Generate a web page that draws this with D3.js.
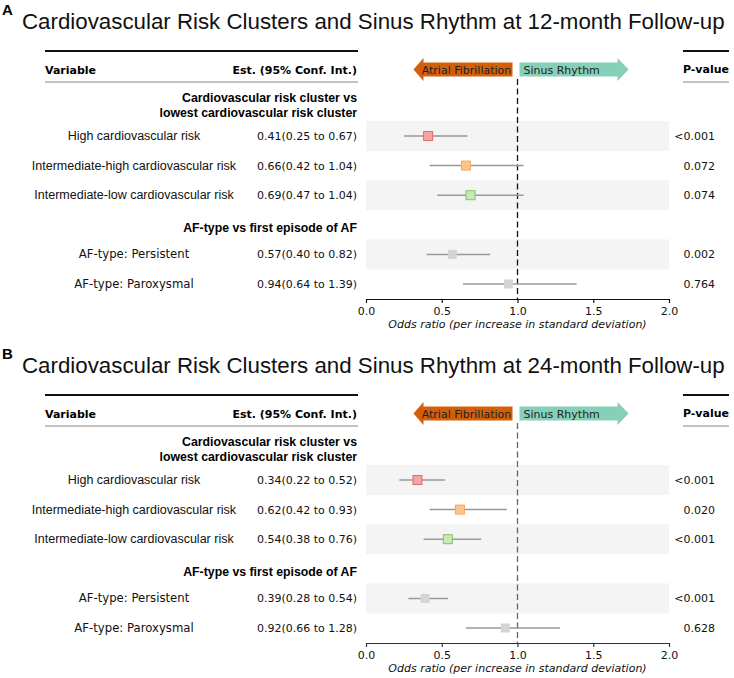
<!DOCTYPE html>
<html><head><meta charset="utf-8">
<script src="https://cdn.jsdelivr.net/npm/d3@7"></script>
<style>body{margin:0;background:#fff}svg{display:block}</style>
</head><body>
<svg id="c" width="734" height="678"></svg>
<script>
const panelLabels = ["A", "B"];
const panelTitles = [
  "Cardiovascular Risk Clusters and Sinus Rhythm at 12-month Follow-up",
  "Cardiovascular Risk Clusters and Sinus Rhythm at 24-month Follow-up"
];
const rowLabels = ["High cardiovascular risk", "Intermediate-high cardiovascular risk",
  "Intermediate-low cardiovascular risk", "AF-type: Persistent", "AF-type: Paroxysmal"];
const rowGroup = ["cv", "cv", "cv", "af", "af"];
const groupHeaders = [["Cardiovascular risk cluster vs", "lowest cardiovascular risk cluster"], ["AF-type vs first episode of AF"]];
const est12 = [0.41, 0.66, 0.69, 0.57, 0.94];
const lo12 = [0.25, 0.42, 0.47, 0.40, 0.64];
const hi12 = [0.67, 1.04, 1.04, 0.82, 1.39];
const p12 = ["<0.001", "0.072", "0.074", "0.002", "0.764"];
const est24 = [0.34, 0.62, 0.54, 0.39, 0.92];
const lo24 = [0.22, 0.42, 0.38, 0.28, 0.66];
const hi24 = [0.52, 0.93, 0.76, 0.54, 1.28];
const p24 = ["<0.001", "0.020", "<0.001", "<0.001", "0.628"];
const xTicks = [0.0, 0.5, 1.0, 1.5, 2.0];
const markerFill = ["#f5a3a3", "#fdc48c", "#c8e8b4", "#d4d4d4", "#d4d4d4"];
const markerStroke = ["#e06a6a", "#f5a75e", "#86c26a", "none", "none"];

const svg = d3.select("#c");
const SANS = "'Liberation Sans', Arial, sans-serif";
const DJV = "'DejaVu Sans', sans-serif";
const x = d3.scaleLinear().domain([0, 2]).range([366, 669]);
// row slots: 0 High,1 IH,2 IL,(3 AF header),4 Pers,5 Par
const slot = [0, 1, 2, 4, 5];
const y = d3.scaleLinear().domain([0, 5]).range([136, 284]);
const fmt = d3.format(".2f");

function panel(k, off, est, lo, hi, pv, dashColor, axisColor) {
  const g = svg.append("g").attr("transform", `translate(0,${off})`);
  g.append("text").attr("x", 2).attr("y", 15).attr("font-family", SANS).attr("font-weight", "bold")
    .attr("font-size", 15).text(panelLabels[k]);
  g.append("text").attr("x", 22).attr("y", 29).attr("font-family", SANS).attr("font-size", 22.3)
    .attr("fill", "#111").text(panelTitles[k]);
  // table rules
  g.append("line").attr("x1", 45).attr("x2", 358).attr("y1", 51).attr("y2", 51).attr("stroke", "#111").attr("stroke-width", 2);
  g.append("line").attr("x1", 45).attr("x2", 358).attr("y1", 82).attr("y2", 82).attr("stroke", "#888").attr("stroke-width", 1);
  g.append("line").attr("x1", 683).attr("x2", 729).attr("y1", 51).attr("y2", 51).attr("stroke", "#111").attr("stroke-width", 2);
  g.append("line").attr("x1", 683).attr("x2", 729).attr("y1", 82).attr("y2", 82).attr("stroke", "#888").attr("stroke-width", 1);
  g.append("text").attr("x", 45).attr("y", 74).attr("font-family", DJV).attr("font-weight", "bold").attr("font-size", 11).text("Variable");
  g.append("text").attr("x", 357).attr("y", 74).attr("text-anchor", "end").attr("font-family", DJV).attr("font-weight", "bold").attr("font-size", 11).text("Est. (95% Conf. Int.)");
  g.append("text").attr("x", 729).attr("y", 73).attr("text-anchor", "end").attr("font-family", DJV).attr("font-weight", "bold").attr("font-size", 11).text("P-value");
  // group headers
  groupHeaders[0].forEach((t, i) => g.append("text").attr("x", 357).attr("y", 101.5 + i * 15.5).attr("text-anchor", "end")
    .attr("font-family", SANS).attr("font-weight", "bold").attr("font-size", 12.3).text(t));
  g.append("text").attr("x", 357).attr("y", y(3) + 7.5).attr("text-anchor", "end")
    .attr("font-family", SANS).attr("font-weight", "bold").attr("font-size", 12.3).text(groupHeaders[1][0]);
  // bands
  rowLabels.forEach((r, i) => {
    if (slot[i] % 2 === 0) g.append("rect").attr("x", x(0)).attr("width", x(2) - x(0))
      .attr("y", y(slot[i]) - 15).attr("height", 30).attr("fill", "#f4f4f4");
  });
  // arrows
  const ay = 69.5, x1 = x(1);
  const orange = [[x1 - 5, ay - 7], [x1 - 5, ay + 7], [x1 - 94, ay + 7], [x1 - 94, ay + 11.5], [x1 - 104, ay], [x1 - 94, ay - 11.5], [x1 - 94, ay - 7]];
  const teal = [[x1 + 2, ay - 7], [x1 + 100, ay - 7], [x1 + 100, ay - 11.5], [x1 + 111, ay], [x1 + 100, ay + 11.5], [x1 + 100, ay + 7], [x1 + 2, ay + 7]];
  g.append("polygon").attr("points", orange.map(p => p.join(",")).join(" ")).attr("fill", "#d35f0b");
  g.append("polygon").attr("points", teal.map(p => p.join(",")).join(" ")).attr("fill", "#86d0b7");
  g.append("text").attr("x", x1 - 51).attr("y", ay + 4).attr("text-anchor", "middle").attr("font-family", DJV).attr("font-size", 11).attr("fill", "#222").text("Atrial Fibrillation");
  g.append("text").attr("x", x1 + 6).attr("y", ay + 4).attr("font-family", DJV).attr("font-size", 11).attr("fill", "#222").text("Sinus Rhythm");
  // dashed reference line
  g.append("line").attr("x1", x1).attr("x2", x1).attr("y1", 79).attr("y2", 299)
    .attr("stroke", dashColor).attr("stroke-width", 1.3).attr("stroke-dasharray", "6,3.5");
  // rows
  rowLabels.forEach((r, i) => {
    const yy = y(slot[i]);
    g.append("text").attr("x", 134).attr("y", yy + 4).attr("text-anchor", "middle")
      .attr("font-family", rowGroup[i] === "cv" ? SANS : DJV).attr("font-size", rowGroup[i] === "cv" ? 12.5 : 11.7)
      .attr("fill", "#111").text(r);
    g.append("text").attr("x", 357).attr("y", yy + 4).attr("text-anchor", "end").attr("font-family", DJV).attr("font-size", 11)
      .attr("fill", "#111").text(`${fmt(est[i])}(${fmt(lo[i])} to ${fmt(hi[i])})`);
    g.append("text").attr("x", 715).attr("y", yy + 4).attr("text-anchor", "end").attr("font-family", DJV).attr("font-size", 11)
      .attr("fill", "#111").text(pv[i]);
    g.append("line").attr("x1", x(lo[i])).attr("x2", x(hi[i])).attr("y1", yy).attr("y2", yy)
      .attr("stroke", "#999").attr("stroke-width", 1.5);
    g.append("rect").attr("x", x(est[i]) - 4.5).attr("y", yy - 4.5).attr("width", 9).attr("height", 9)
      .attr("fill", markerFill[i]).attr("stroke", markerStroke[i]).attr("stroke-width", 1);
  });
  // axis
  const ax = g.append("g").attr("transform", "translate(0,299)")
    .call(d3.axisBottom(x).tickValues(xTicks).tickFormat(d3.format(".1f")).tickSize(4).tickSizeOuter(0));
  ax.select(".domain").attr("stroke", axisColor).attr("stroke-width", 1.2);
  ax.selectAll(".tick line").attr("stroke", axisColor).attr("stroke-width", 1.2);
  ax.selectAll(".tick text").attr("font-family", DJV).attr("font-size", 11).attr("fill", "#111").attr("dy", "0.85em");
  g.append("text").attr("x", x(1)).attr("y", 328).attr("text-anchor", "middle").attr("font-family", DJV)
    .attr("font-style", "italic").attr("font-size", 11).attr("fill", "#111").text("Odds ratio (per increase in standard deviation)");
}
panel(0, 0, est12, lo12, hi12, p12, "#111", "#111");
panel(1, 344, est24, lo24, hi24, p24, "#666", "#333");
</script>
</body></html>
